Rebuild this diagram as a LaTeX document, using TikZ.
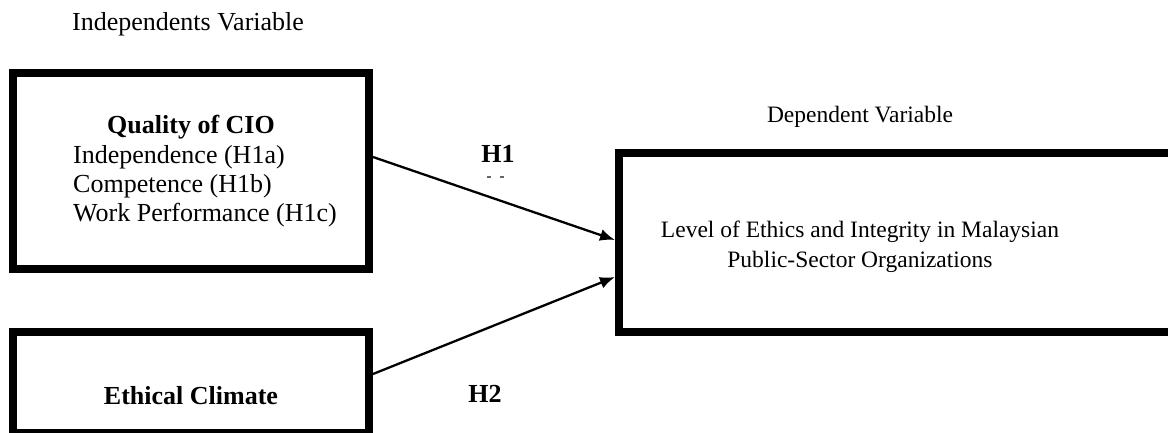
\documentclass[tikz,border=0pt]{standalone}
\usepackage{fontspec}
\setmainfont{Liberation Serif}
\usetikzlibrary{arrows.meta}

\tikzstyle{varbox} = [draw, rectangle, line width=8pt, inner sep=0pt, minimum width=356pt]
\tikzstyle{link} = [line width=2.3pt, -{Latex[length=15pt,width=12pt]}]
\tikzstyle{bigtext} = [inner sep=0pt, font=\fontsize{26}{29}\selectfont]
\tikzstyle{boldtext} = [inner sep=0pt, font=\fontsize{26}{29}\selectfont\bfseries]
\tikzstyle{smalltext} = [inner sep=0pt, font=\fontsize{23.5}{30}\selectfont]

\begin{document}
\begin{tikzpicture}[x=1pt,y=-1pt]
      \useasboundingbox (0,0) rectangle (1168,432);
      \clip (0,0) rectangle (1168,432);
      % boxes
      \node[varbox, minimum height=196pt] (cio) at (191,171) {};
      \node[varbox, minimum height=101pt] (climate) at (191,382.5) {};
      \node[varbox, minimum width=571pt, minimum height=179pt] (ethics) at (904.5,242.5) {};
      % headings
      \node[bigtext, anchor=base west] (indep) at (72,30) {Independents Variable};
      \node[smalltext, anchor=base] (dep) at (860,122) {Dependent Variable};
      % box texts
      \node[boldtext, anchor=base] (quality) at (191,133) {Quality of CIO};
      \node[bigtext, anchor=base west] (independence) at (73,163) {Independence (H1a)};
      \node[bigtext, anchor=base west] (competence) at (73,192) {Competence (H1b)};
      \node[bigtext, anchor=base west] (performance) at (73,221) {Work Performance (H1c)};
      \node[boldtext, anchor=base] (ethclimate) at (191,404) {Ethical Climate};
      \node[smalltext, anchor=base] (level) at (860,237) {Level of Ethics and Integrity in Malaysian};
      \node[smalltext, anchor=base] (sector) at (860,267) {Public-Sector Organizations};
      % hypotheses
      \node[boldtext, anchor=base] (h1) at (498,162) {H1};
      \node[boldtext, anchor=base] (h2) at (485,402) {H2};
      \fill[black!60] (487,176) rectangle (491,177.5);
      \fill[black!60] (500,176) rectangle (504,177.5);
      \draw[link] ([yshift=14pt]cio.east) -- ([yshift=2.5pt]ethics.west);
      \draw[link] ([yshift=8.5pt]climate.east) -- ([yshift=-34.5pt]ethics.west);
    \end{tikzpicture}
\end{document}
